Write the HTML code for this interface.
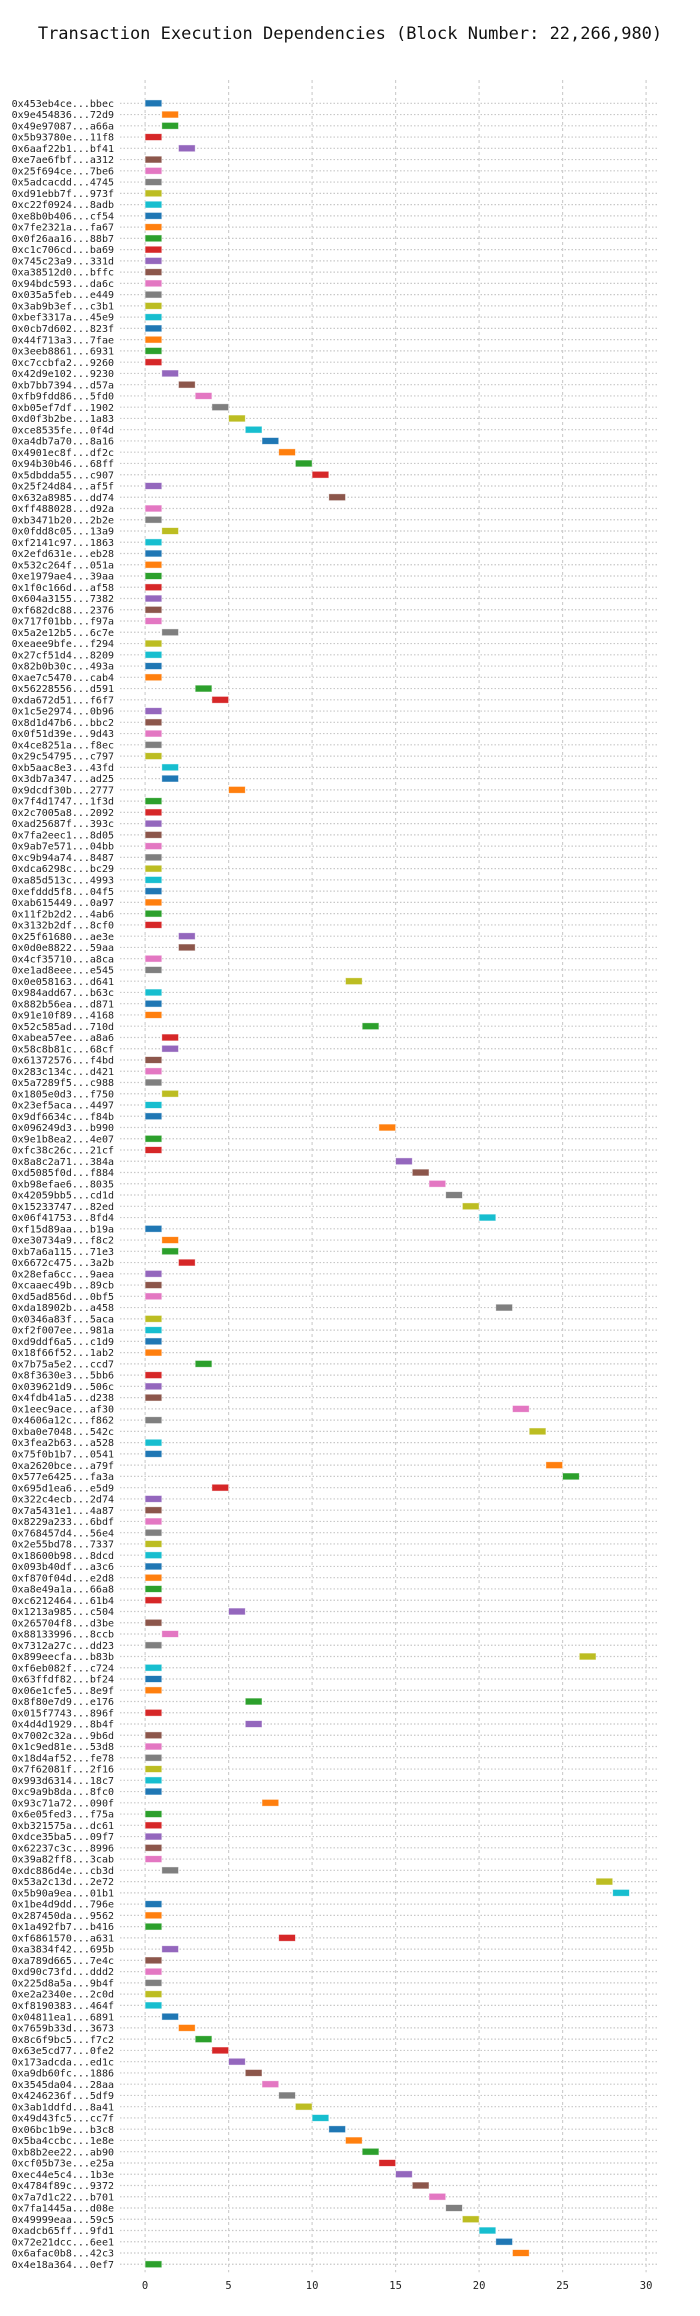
<!DOCTYPE html>
<html><head><meta charset="utf-8"><title>Transaction Execution Dependencies</title>
<style>
html,body{margin:0;padding:0;background:#fff;}
svg{display:block;font-family:"DejaVu Sans Mono","Liberation Mono",monospace;}
</style></head>
<body>
<svg id="chart" width="700" height="2316" viewBox="0 0 700 2316" xmlns="http://www.w3.org/2000/svg">
<text x="350" y="39" text-anchor="middle" font-size="17" fill="#111">Transaction Execution Dependencies (Block Number: 22,266,980)</text>
<g id="grid"></g>
<g id="labels"></g>
<g id="bars"></g>
<g id="xticks"></g>
</svg>
<script>
const txLabels = ["0x453eb4ce...bbec","0x9e454836...72d9","0x49e97087...a66a","0x5b93780e...11f8","0x6aaf22b1...bf41","0xe7ae6fbf...a312","0x25f694ce...7be6","0x5adcacdd...4745","0xd91ebb7f...973f","0xc22f0924...8adb","0xe8b0b406...cf54","0x7fe2321a...fa67","0x0f26aa16...88b7","0xc1c706cd...ba69","0x745c23a9...331d","0xa38512d0...bffc","0x94bdc593...da6c","0x035a5feb...e449","0x3ab9b3ef...c3b1","0xbef3317a...45e9","0x0cb7d602...823f","0x44f713a3...7fae","0x3eeb8861...6931","0xc7ccbfa2...9260","0x42d9e102...9230","0xb7bb7394...d57a","0xfb9fdd86...5fd0","0xb05ef7df...1902","0xd0f3b2be...1a83","0xce8535fe...0f4d","0xa4db7a70...8a16","0x4901ec8f...df2c","0x94b30b46...68ff","0x5dbdda55...c907","0x25f24d84...af5f","0x632a8985...dd74","0xff488028...d92a","0xb3471b20...2b2e","0x0fdd8c05...13a9","0xf2141c97...1863","0x2efd631e...eb28","0x532c264f...051a","0xe1979ae4...39aa","0x1f0c166d...af58","0x604a3155...7382","0xf682dc88...2376","0x717f01bb...f97a","0x5a2e12b5...6c7e","0xeaee9bfe...f294","0x27cf51d4...8209","0x82b0b30c...493a","0xae7c5470...cab4","0x56228556...d591","0xda672d51...f6f7","0x1c5e2974...0b96","0x8d1d47b6...bbc2","0x0f51d39e...9d43","0x4ce8251a...f8ec","0x29c54795...c797","0xb5aac8e3...43fd","0x3db7a347...ad25","0x9dcdf30b...2777","0x7f4d1747...1f3d","0x2c7005a8...2092","0xad25687f...393c","0x7fa2eec1...8d05","0x9ab7e571...04bb","0xc9b94a74...8487","0xdca6298c...bc29","0xa85d513c...4993","0xefddd5f8...04f5","0xab615449...0a97","0x11f2b2d2...4ab6","0x3132b2df...8cf0","0x25f61680...ae3e","0x0d0e8822...59aa","0x4cf35710...a8ca","0xe1ad8eee...e545","0x0e058163...d641","0x984add67...b63c","0x882b56ea...d871","0x91e10f89...4168","0x52c585ad...710d","0xabea57ee...a8a6","0x58c8b81c...68cf","0x61372576...f4bd","0x283c134c...d421","0x5a7289f5...c988","0x1805e0d3...f750","0x23ef5aca...4497","0x9df6634c...f84b","0x096249d3...b990","0x9e1b8ea2...4e07","0xfc38c26c...21cf","0x8a8c2a71...384a","0xd5085f0d...f884","0xb98efae6...8035","0x42059bb5...cd1d","0x15233747...82ed","0x06f41753...8fd4","0xf15d89aa...b19a","0xe30734a9...f8c2","0xb7a6a115...71e3","0x6672c475...3a2b","0x28efa6cc...9aea","0xcaaec49b...89cb","0xd5ad856d...0bf5","0xda18902b...a458","0x0346a83f...5aca","0xf2f007ee...981a","0xd9ddf6a5...c1d9","0x18f66f52...1ab2","0x7b75a5e2...ccd7","0x8f3630e3...5bb6","0x039621d9...506c","0x4fdb41a5...d238","0x1eec9ace...af30","0x4606a12c...f862","0xba0e7048...542c","0x3fea2b63...a528","0x75f0b1b7...0541","0xa2620bce...a79f","0x577e6425...fa3a","0x695d1ea6...e5d9","0x322c4ecb...2d74","0x7a5431e1...4a87","0x8229a233...6bdf","0x768457d4...56e4","0x2e55bd78...7337","0x18600b98...8dcd","0x093b40df...a3c6","0xf870f04d...e2d8","0xa8e49a1a...66a8","0xc6212464...61b4","0x1213a985...c504","0x265704f8...d3be","0x88133996...8ccb","0x7312a27c...dd23","0x899eecfa...b83b","0xf6eb082f...c724","0x63ffdf82...bf24","0x06e1cfe5...8e9f","0x8f80e7d9...e176","0x015f7743...896f","0x4d4d1929...8b4f","0x7002c32a...9b6d","0x1c9ed81e...53d8","0x18d4af52...fe78","0x7f62081f...2f16","0x993d6314...18c7","0xc9a9b8da...8fc0","0x93c71a72...090f","0x6e05fed3...f75a","0xb321575a...dc61","0xdce35ba5...09f7","0x62237c3c...8996","0x39a82ff8...3cab","0xdc886d4e...cb3d","0x53a2c13d...2e72","0x5b90a9ea...01b1","0x1be4d9dd...796e","0x287450da...9562","0x1a492fb7...b416","0xf6861570...a631","0xa3834f42...695b","0xa789d665...7e4c","0xd90c73fd...ddd2","0x225d8a5a...9b4f","0xe2a2340e...2c0d","0xf8190383...464f","0x04811ea1...6891","0x7659b33d...3673","0x8c6f9bc5...f7c2","0x63e5cd77...0fe2","0x173adcda...ed1c","0xa9db60fc...1886","0x3545da04...28aa","0x4246236f...5df9","0x3ab1ddfd...8a41","0x49d43fc5...cc7f","0x06bc1b9e...b3c8","0x5ba4ccbc...1e8e","0xb8b2ee22...ab90","0xcf05b73e...e25a","0xec44e5c4...1b3e","0x4784f89c...9372","0x7a7d1c22...b701","0x7fa1445a...d08e","0x49999eaa...59c5","0xadcb65ff...9fd1","0x72e21dcc...6ee1","0x6afac0b8...42c3","0x4e18a364...0ef7"];
const startTimes = [0,1,1,0,2,0,0,0,0,0,0,0,0,0,0,0,0,0,0,0,0,0,0,0,1,2,3,4,5,6,7,8,9,10,0,11,0,0,1,0,0,0,0,0,0,0,0,1,0,0,0,0,3,4,0,0,0,0,0,1,1,5,0,0,0,0,0,0,0,0,0,0,0,0,2,2,0,0,12,0,0,0,13,1,1,0,0,0,1,0,0,14,0,0,15,16,17,18,19,20,0,1,1,2,0,0,0,21,0,0,0,0,3,0,0,0,22,0,23,0,0,24,25,4,0,0,0,0,0,0,0,0,0,0,5,0,1,0,26,0,0,0,6,0,6,0,0,0,0,0,0,7,0,0,0,0,0,1,27,28,0,0,0,8,1,0,0,0,0,0,1,2,3,4,5,6,7,8,9,10,11,12,13,14,15,16,17,18,19,20,21,22,0];
const durations = new Array(txLabels.length).fill(1);
const xTicks = [0,5,10,15,20,25,30];
const palette = ["#1f77b4","#ff7f0e","#2ca02c","#d62728","#9467bd","#8c564b","#e377c2","#7f7f7f","#bcbd22","#17becf"];

const NS = "http://www.w3.org/2000/svg";
const X0 = 145.1, XU = 16.7, Y0 = 103.3, YU = 11.255;
function xs(v){ return X0 + v * XU; }
function ys(i){ return Y0 + i * YU; }
function mk(tag, attrs, parent){
  const e = document.createElementNS(NS, tag);
  for (const k in attrs) e.setAttribute(k, attrs[k]);
  parent.appendChild(e); return e;
}
const grid = document.getElementById('grid');
const labels = document.getElementById('labels');
const bars = document.getElementById('bars');
const xt = document.getElementById('xticks');
const n = txLabels.length;
const yBottom = ys(n - 1) + 8;

for (let i = 0; i < n; i++) {
  const y = ys(i);
  const hl = mk('line', {x1: 120, x2: 658, y1: y, y2: y, stroke: '#c8c8c8', 'stroke-width': 1.2, 'stroke-dasharray': '1.5,2'}, grid);
  
  
  const t = mk('text', {x: 114, y: y + 3.6, 'text-anchor': 'end', 'font-size': 10, fill: '#222'}, labels);
  t.textContent = txLabels[i];
  
  
}
for (const v of xTicks) {
  const vl = mk('line', {x1: xs(v), x2: xs(v), y1: 80, y2: yBottom, stroke: '#cfcfcf', 'stroke-width': 1.2, 'stroke-dasharray': '3,3'}, grid);
  
  
  const tl = mk('text', {x: xs(v), y: 2289, 'text-anchor': 'middle', 'font-size': 10.5, fill: '#222'}, xt);
  tl.textContent = String(v);
  
  
}
for (let i = 0; i < n; i++) {
  const r = mk('rect', {x: xs(startTimes[i]), y: ys(i) - 3.4, width: durations[i] * XU, height: 6.8, fill: palette[i % 10], stroke: 'rgba(255,255,255,0.6)', 'stroke-width': 0.8}, bars);
  
  
}
</script>
</body></html>
